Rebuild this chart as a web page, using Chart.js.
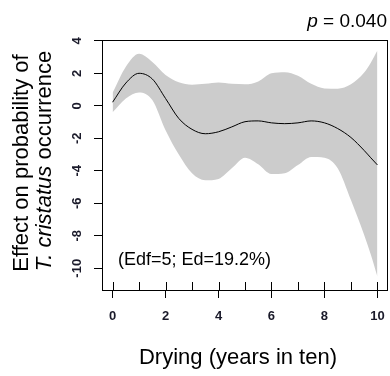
<!DOCTYPE html>
<html>
<head>
<meta charset="utf-8">
<script src="https://cdn.jsdelivr.net/npm/chart.js@4.4.0/dist/chart.umd.min.js"></script>
<style>
  html, body { margin: 0; padding: 0; background: #fff; }
  #wrap { width: 390px; height: 376px; position: relative; }
</style>
</head>
<body>
<div id="wrap"><canvas id="smoothChart"></canvas></div>
<script>
// Smoothed effect of drying on T. cristatus occurrence, with confidence band
const drying    = [0, 0.5, 1, 1.5, 2, 2.5, 3, 3.5, 4, 4.5, 5, 5.5, 6, 6.5, 7, 7.5, 8, 8.5, 9, 9.5, 9.75, 10];
const effectFit = [0.22, 1.4, 2.0, 1.65, 0.45, -0.78, -1.45, -1.72, -1.6, -1.3, -0.98, -0.93, -1.05, -1.1, -1.05, -0.93, -1.05, -1.4, -1.95, -2.75, -3.2, -3.64];
const upperCI   = [0.8, 2.4, 3.2, 2.7, 1.9, 1.45, 1.3, 1.35, 1.44, 1.35, 1.32, 1.5, 2.0, 2.07, 1.85, 1.35, 1.07, 1.05, 1.32, 2.05, 2.65, 3.4];
const lowerCI   = [-0.4, 0.45, 0.82, 0.35, -1.5, -3.0, -4.15, -4.58, -4.5, -3.85, -3.2, -3.6, -4.2, -4.15, -3.65, -3.15, -3.2, -3.85, -5.8, -7.95, -9.15, -10.5];

const xTicks = [0, 2, 4, 6, 8, 10];
const yTicks = [-10, -8, -6, -4, -2, 0, 2, 4];
const rugPositions = [0, 1, 2, 3, 4, 5, 6, 7, 8, 9, 10];

const pValue = "0.040";
const fitStats = "(Edf=5; Ed=19.2%)";

const FONT = '"Liberation Sans", Arial, sans-serif';

function toPoints(ys) {
  return drying.map((x, i) => ({ x: x, y: ys[i] }));
}

// Frame, rug marks and all the free text
const decorations = {
  id: 'decorations',
  afterDatasetsDraw(chart) {
    const { ctx, chartArea: a, scales: { x } } = chart;
    ctx.save();
    ctx.strokeStyle = '#000';
    ctx.lineWidth = 1;

    // rug along the bottom
    ctx.beginPath();
    rugPositions.forEach(v => {
      const px = Math.round(x.getPixelForValue(v)) + 0.5;
      ctx.moveTo(px, a.bottom);
      ctx.lineTo(px, a.bottom - 9);
    });
    ctx.stroke();

    ctx.strokeRect(Math.round(a.left) + 0.5, Math.round(a.top) + 0.5,
      Math.round(a.right - a.left) - 1, Math.round(a.bottom - a.top) - 1);
    ctx.restore();
  },
  afterDraw(chart) {
    const { ctx } = chart;
    ctx.save();
    ctx.fillStyle = '#000';
    ctx.textBaseline = 'alphabetic';

    // p value, top right
    ctx.font = '19px ' + FONT;
    const rest = ' = ' + pValue;
    const restW = ctx.measureText(rest).width;
    ctx.textAlign = 'right';
    ctx.fillText(rest, 387, 27);
    ctx.font = 'italic 19px ' + FONT;
    ctx.fillText('p', 387 - restW, 27);

    // fit statistics inside the plot
    ctx.font = '18px ' + FONT;
    ctx.textAlign = 'left';
    ctx.fillText(fitStats, 118, 265);

    // x title
    ctx.font = '22px ' + FONT;
    ctx.textAlign = 'center';
    ctx.fillText('Drying (years in ten)', 238, 364);

    // y title, two lines, species name in italics
    ctx.save();
    ctx.translate(28, 163);
    ctx.rotate(-Math.PI / 2);
    ctx.fillText('Effect on probability of', 0, 0);
    ctx.restore();

    ctx.save();
    ctx.translate(51, 161);
    ctx.rotate(-Math.PI / 2);
    ctx.font = 'italic 22px ' + FONT;
    const sp = 'T. cristatus';
    const spW = ctx.measureText(sp).width;
    ctx.font = '22px ' + FONT;
    const occ = ' occurrence';
    const occW = ctx.measureText(occ).width;
    const start = -(spW + occW) / 2;
    ctx.textAlign = 'left';
    ctx.font = 'italic 22px ' + FONT;
    ctx.fillText(sp, start, 0);
    ctx.font = '22px ' + FONT;
    ctx.fillText(occ, start + spW, 0);
    ctx.restore();

    ctx.restore();
  }
};

const ctx = document.getElementById('smoothChart').getContext('2d');
new Chart(ctx, {
  type: 'line',
  data: {
    datasets: [
      {
        label: 'fit',
        data: toPoints(effectFit),
        borderColor: '#000',
        borderWidth: 1,
        pointRadius: 0,
        fill: false,
        cubicInterpolationMode: 'monotone'
      },
      {
        label: 'upper',
        data: toPoints(upperCI),
        borderWidth: 0,
        borderColor: 'rgba(0,0,0,0)',
        backgroundColor: '#cccccc',
        pointRadius: 0,
        fill: '+1',
        cubicInterpolationMode: 'monotone'
      },
      {
        label: 'lower',
        data: toPoints(lowerCI),
        borderWidth: 0,
        borderColor: 'rgba(0,0,0,0)',
        pointRadius: 0,
        fill: false,
        cubicInterpolationMode: 'monotone'
      }
    ]
  },
  options: {
    responsive: true,
    maintainAspectRatio: false,
    animation: false,
    layout: { padding: { top: 40, right: 2, bottom: 0, left: 0 } },
    plugins: {
      legend: { display: false },
      tooltip: { enabled: false }
    },
    scales: {
      x: {
        type: 'linear',
        min: -0.4,
        max: 10.4,
        afterBuildTicks: s => { s.ticks = xTicks.map(v => ({ value: v })); },
        afterFit: s => {
          s.height = 85;
          s.paddingLeft = 0;
          s.paddingRight = 0;
        },
        border: { display: false },
        grid: { drawOnChartArea: false, tickLength: 7, color: '#000', tickWidth: 1 },
        ticks: {
          padding: 11,
          maxRotation: 0,
          color: '#1a1a2a',
          font: { family: FONT, size: 13, weight: 'bold' }
        }
      },
      y: {
        type: 'linear',
        min: -11.4,
        max: 4.05,
        afterBuildTicks: s => { s.ticks = yTicks.map(v => ({ value: v })); },
        afterFit: s => {
          s.width = 102;
          s.paddingTop = 0;
          s.paddingBottom = 0;
        },
        border: { display: false },
        grid: { drawOnChartArea: false, tickLength: 8, color: '#000', tickWidth: 1 },
        ticks: {
          minRotation: 90,
          maxRotation: 90,
          crossAlign: 'center',
          padding: 7,
          color: '#1a1a2a',
          font: { family: FONT, size: 13, weight: 'bold' }
        }
      }
    }
  },
  plugins: [decorations]
});
</script>
</body>
</html>
